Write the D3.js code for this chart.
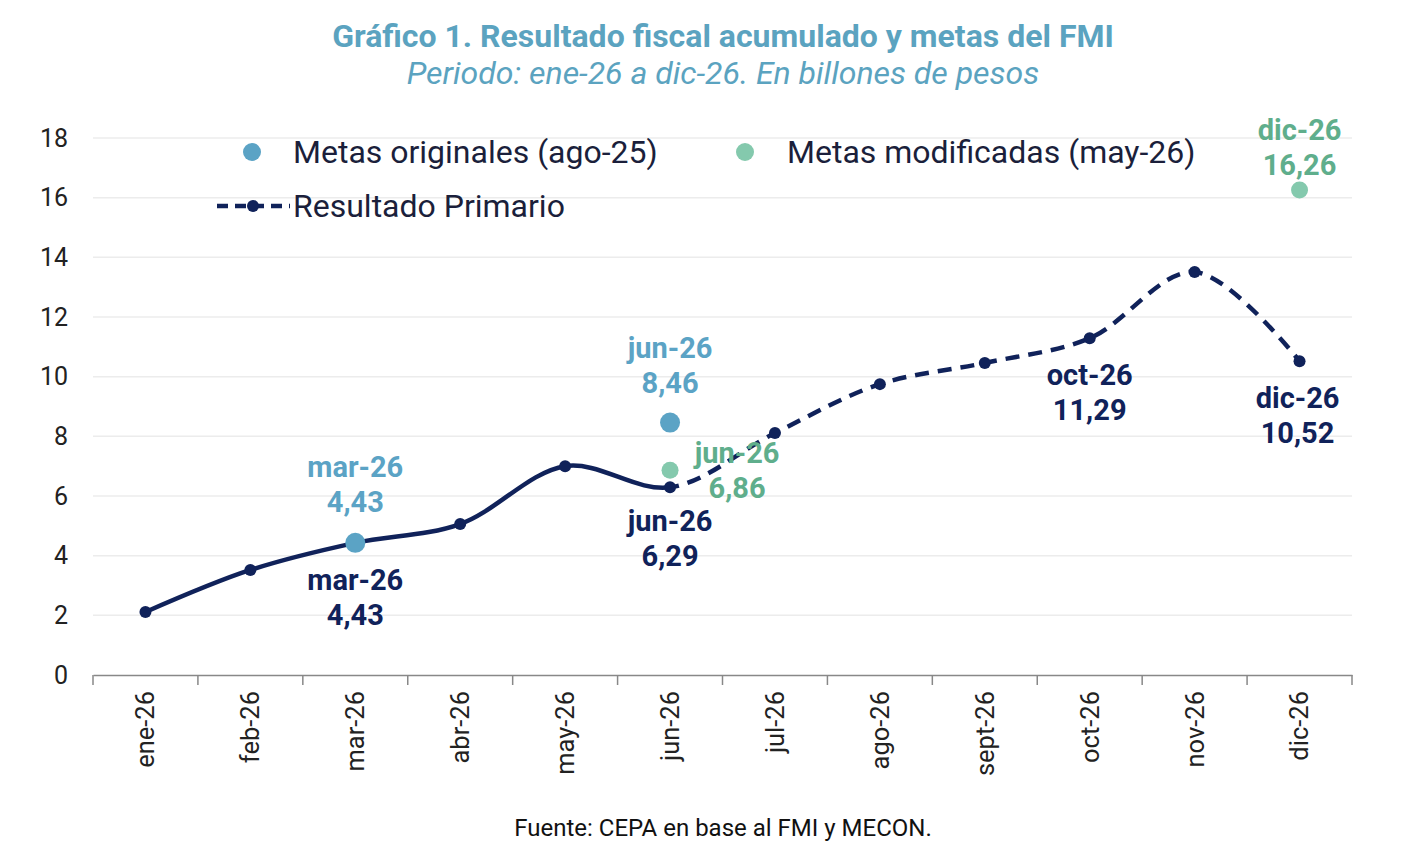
<!DOCTYPE html>
<html>
<head>
<meta charset="utf-8">
<script src="https://cdn.jsdelivr.net/npm/d3@7"></script>
<style>
  body { margin: 0; background: #fff; }
  svg text { font-family: Roboto, sans-serif; }
</style>
</head>
<body>
<div id="chart"></div>
<script>
// data
const months = ['ene-26', 'feb-26', 'mar-26', 'abr-26', 'may-26', 'jun-26',
    'jul-26', 'ago-26', 'sept-26', 'oct-26', 'nov-26', 'dic-26'];
const resultado = [2.11, 3.52, 4.43, 5.06, 7.0, 6.29, 8.11, 9.75, 10.46, 11.29, 13.51, 10.52];
const metasOriginales = [{ m: 'mar-26', v: 4.43 }, { m: 'jun-26', v: 8.46 }];
const metasModificadas = [{ m: 'jun-26', v: 6.86 }, { m: 'dic-26', v: 16.26 }];
const yTicks = [0, 2, 4, 6, 8, 10, 12, 14, 16, 18];
const splitMonth = 'jun-26'; // real data up to here, projection after

const W = 1414, H = 866;
const navy = '#10225a';
const blue = '#5ba3c5';
const green = '#84c9ad';
const greenText = '#5fae8c';
const fmt = v => d3.format('.2f')(v).replace('.', ',');

const svg = d3.select('#chart').append('svg')
    .attr('width', W)
    .attr('height', H);

const x = d3.scaleBand().domain(months).range([93, 1352]);
const y = d3.scaleLinear().domain([0, 18]).range([675, 138]);
const cx = m => x(m) + x.bandwidth() / 2;

// title
svg.append('text')
    .attr('x', 723).attr('y', 47)
    .attr('text-anchor', 'middle')
    .attr('font-size', 32).attr('font-weight', 700)
    .attr('fill', '#5ba3c0')
    .text('Gráfico 1. Resultado fiscal acumulado y metas del FMI');
svg.append('text')
    .attr('x', 723).attr('y', 84)
    .attr('text-anchor', 'middle')
    .attr('font-size', 32).attr('font-style', 'italic')
    .attr('fill', '#5ba3c0')
    .text('Periodo: ene-26 a dic-26. En billones de pesos');

// grid
svg.append('g')
    .selectAll('line')
    .data(yTicks.filter(d => d > 0))
    .enter()
    .append('line')
    .attr('x1', 93).attr('x2', 1352)
    .attr('y1', d => y(d)).attr('y2', d => y(d))
    .attr('stroke', '#ececec').attr('stroke-width', 1.5);

// y axis labels
const yAxis = svg.append('g')
    .attr('transform', 'translate(93,0)')
    .call(d3.axisLeft(y).tickValues(yTicks).tickSize(0).tickPadding(25));
yAxis.select('.domain').remove();
yAxis.selectAll('text')
    .attr('font-family', '"Open Sans", sans-serif')
    .attr('font-size', 25)
    .attr('fill', '#222');

// x axis
const xAxis = svg.append('g')
    .attr('transform', 'translate(0,675)')
    .call(d3.axisBottom(x).tickSize(0));
xAxis.select('.domain').attr('stroke', '#888').attr('stroke-width', 1.5);
xAxis.selectAll('.tick text')
    .attr('font-family', '"Liberation Sans", Arial, sans-serif')
    .attr('font-size', 25.5)
    .attr('fill', '#222')
    .attr('text-anchor', 'end')
    .attr('transform', 'rotate(-90)')
    .attr('x', -16).attr('y', 0).attr('dy', '0.35em');
// band separators
svg.append('g')
    .selectAll('line')
    .data(months.concat(['end']))
    .enter()
    .append('line')
    .attr('x1', (d, i) => 93 + i * x.bandwidth())
    .attr('x2', (d, i) => 93 + i * x.bandwidth())
    .attr('y1', 675).attr('y2', 685)
    .attr('stroke', '#888').attr('stroke-width', 1.5);

// resultado line: full smooth path, clipped into solid / dashed parts
const pts = months.map((m, i) => [cx(m), y(resultado[i])]);
const line = d3.line().curve(d3.curveCatmullRom.alpha(0.5));
const splitX = cx(splitMonth);

const defs = svg.append('defs');
defs.append('clipPath').attr('id', 'clip-solid')
    .append('rect').attr('x', 0).attr('y', 0).attr('width', splitX).attr('height', H);
defs.append('clipPath').attr('id', 'clip-dash')
    .append('rect').attr('x', splitX).attr('y', 0).attr('width', W - splitX).attr('height', H);

svg.append('path')
    .attr('d', line(pts))
    .attr('fill', 'none')
    .attr('stroke', navy).attr('stroke-width', 4.5)
    .attr('clip-path', 'url(#clip-solid)');
svg.append('path')
    .attr('d', line(pts))
    .attr('fill', 'none')
    .attr('stroke', navy).attr('stroke-width', 4.5)
    .attr('stroke-dasharray', '14,9')
    .attr('clip-path', 'url(#clip-dash)');

svg.append('g')
    .selectAll('circle')
    .data(pts)
    .enter()
    .append('circle')
    .attr('cx', d => d[0]).attr('cy', d => d[1])
    .attr('r', 6).attr('fill', navy);

// metas
svg.append('g')
    .selectAll('circle')
    .data(metasOriginales)
    .enter()
    .append('circle')
    .attr('cx', d => cx(d.m)).attr('cy', d => y(d.v))
    .attr('r', 10).attr('fill', blue);
svg.append('g')
    .selectAll('circle')
    .data(metasModificadas)
    .enter()
    .append('circle')
    .attr('cx', d => cx(d.m)).attr('cy', d => y(d.v))
    .attr('r', 8.5).attr('fill', green);

// data labels
function label(m, v, dx, dy, color) {
    const g = svg.append('text')
        .attr('text-anchor', 'middle')
        .attr('font-size', 29).attr('font-weight', 700)
        .attr('fill', color);
    g.append('tspan').attr('x', cx(m) + dx).attr('y', y(v) + dy).text(m);
    g.append('tspan').attr('x', cx(m) + dx).attr('y', y(v) + dy + 35).text(fmt(v));
}
label('mar-26', 4.43, 0, -66, blue);
label('mar-26', 4.43, 0, 47, navy);
label('jun-26', 8.46, 0, -65, blue);
label('jun-26', 6.86, 67, -7, greenText);
label('jun-26', 6.29, 0, 44, navy);
label('oct-26', 11.29, 0, 47, navy);
label('dic-26', 10.52, -2, 47, navy);
label('dic-26', 16.26, 0, -50, greenText);

// legend
const lg = svg.append('g');
lg.append('circle').attr('cx', 252).attr('cy', 152).attr('r', 9).attr('fill', blue);
lg.append('text').attr('x', 293).attr('y', 163)
    .attr('font-size', 32).attr('fill', '#1b1f3b')
    .text('Metas originales (ago-25)');
lg.append('circle').attr('cx', 745).attr('cy', 152).attr('r', 9).attr('fill', green);
lg.append('text').attr('x', 787).attr('y', 163)
    .attr('font-size', 32).attr('fill', '#1b1f3b')
    .text('Metas modificadas (may-26)');
lg.append('line')
    .attr('x1', 217).attr('x2', 290).attr('y1', 206).attr('y2', 206)
    .attr('stroke', navy).attr('stroke-width', 4.5)
    .attr('stroke-dasharray', '11,7');
lg.append('circle').attr('cx', 253).attr('cy', 206).attr('r', 6).attr('fill', navy);
lg.append('text').attr('x', 293).attr('y', 217)
    .attr('font-size', 32).attr('fill', '#1b1f3b')
    .text('Resultado Primario');

// source
svg.append('text')
    .attr('x', 723).attr('y', 836)
    .attr('text-anchor', 'middle')
    .attr('font-size', 24).attr('fill', '#111')
    .text('Fuente: CEPA en base al FMI y MECON.');
</script>
</body>
</html>
